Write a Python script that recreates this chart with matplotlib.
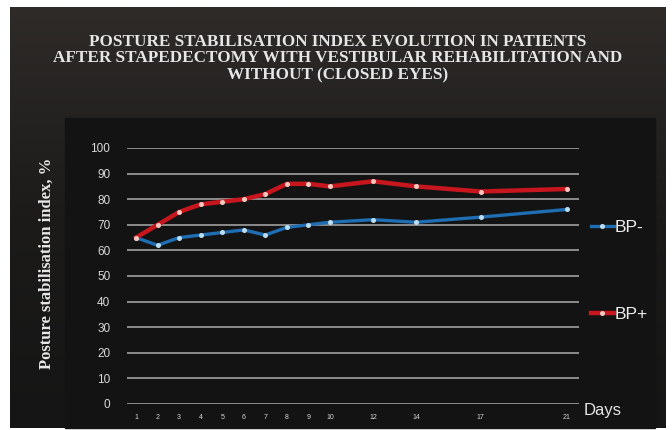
import matplotlib
matplotlib.use("Agg")
import matplotlib.pyplot as plt
from matplotlib.patches import Rectangle
import numpy as np

# Days after surgery and posture stabilisation index (%) per group
days = [1, 2, 3, 4, 5, 6, 7, 8, 9, 10, 12, 14, 17, 21]
bp_minus = [65, 62, 65, 66, 67, 68, 66, 69, 70, 71, 72, 71, 73, 76]
bp_plus = [65, 70, 75, 78, 79, 80, 82, 86, 86, 85, 87, 85, 83, 84]
y_ticks = [0, 10, 20, 30, 40, 50, 60, 70, 80, 90, 100]

title = ("POSTURE STABILISATION INDEX EVOLUTION IN PATIENTS\n"
         "AFTER STAPEDECTOMY WITH VESTIBULAR REHABILITATION AND\n"
         "WITHOUT (CLOSED EYES)")

W, H = 672, 430
fig = plt.figure(figsize=(W / 100, H / 100), dpi=100, facecolor="white")

# dark slide background with a slight gradient towards the top
bg = fig.add_axes([0, 0, 1, 1], zorder=0)
bg.set_xlim(0, W)
bg.set_ylim(H, 0)
bg.axis("off")
grad = np.linspace(0, 1, 256).reshape(-1, 1)
bg.imshow(grad, extent=(10, 666, 428, 7), aspect="auto",
          cmap=matplotlib.colors.LinearSegmentedColormap.from_list(
              "slide", ["#2e2b29", "#1c1b1a", "#151515"]))
bg.add_patch(Rectangle((65, 118), 590, 310, color="#131313", zorder=2))

ax = fig.add_axes([127 / W, 1 - 404 / H, (579 - 127) / W, (404 - 148) / H], zorder=1)
ax.set_facecolor("none")

ax.plot(days, bp_minus, color="#1f6db3", lw=2.4, marker="o", ms=2.6,
        mfc="#bcdcf0", mec="#bcdcf0", label="BP-", clip_on=False, zorder=3)
ax.plot(days, bp_plus, color="#c8161e", lw=3.2, marker="o", ms=2.6,
        mfc="#f4c8c0", mec="#f4c8c0", label="BP+", clip_on=False, zorder=4)

ax.set_xlim(0.58, 21.56)
ax.set_ylim(0, 100)
ax.set_yticks(y_ticks)
ax.set_xticks(days)
ax.set_xticklabels([str(d) for d in days])
ax.grid(axis="y", color="#8c8c8c", lw=1.4)
ax.set_axisbelow(True)
for s in ax.spines.values():
    s.set_visible(False)
ax.tick_params(axis="both", length=0, colors="#d8d8d8")
ax.tick_params(axis="y", pad=12, labelsize=8.5)
ax.tick_params(axis="x", pad=7, labelsize=5)
for lbl in ax.get_xticklabels() + ax.get_yticklabels():
    lbl.set_family("Liberation Sans")

ax.set_ylabel("Posture stabilisation index, %", family="Liberation Serif",
              fontweight="bold", fontsize=12, color="#e8e8e8")
ax.yaxis.set_label_coords((55 - 127) / (579 - 127), (404 - 263) / (404 - 148))

fig.text(338 / W, 1 - 58.5 / H, title, ha="center", va="center",
         family="Liberation Serif", fontweight="bold", fontsize=12.3,
         color="#e6e6e6", linespacing=1.08)

fig.text(584 / W, 1 - 410 / H, "Days", ha="left", va="center",
         family="Liberation Sans", fontsize=12, color="#e6e6e6")

leg = ax.legend(loc="center left", bbox_to_anchor=(1.0, 0.52),
                frameon=False, labelspacing=4.1,
                handlelength=1.3, handletextpad=0.05, borderaxespad=0.3,
                prop={"family": "Liberation Sans", "size": 12.5})
for t in leg.get_texts():
    t.set_color("#eeeeee")

fig.savefig("out.png", dpi=100, facecolor=fig.get_facecolor())
